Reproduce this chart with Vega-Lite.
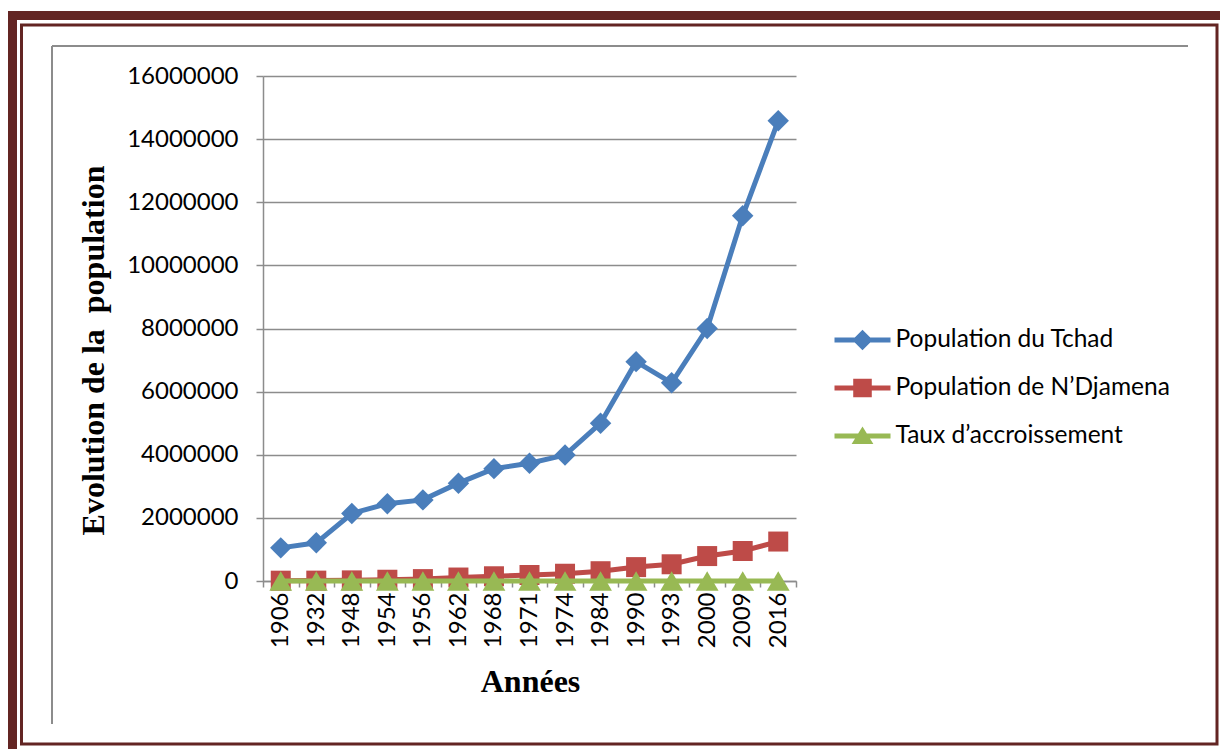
{
  "$schema": "https://vega.github.io/schema/vega-lite/v6.json",
  "autosize": {"type": "none"},
  "width": 533,
  "height": 505,
  "padding": {"left": 263, "top": 76, "right": 424, "bottom": 168},
  "background": "white",
  "config": {
    "view": {"stroke": null},
    "axis": {
      "labelFont": "Lato",
      "labelFontSize": 24,
      "labelColor": "#000000",
      "titleFont": "Liberation Serif",
      "titleFontWeight": "bold",
      "titleColor": "#000000",
      "domainColor": "#8c8c8c",
      "domainWidth": 1.5,
      "tickColor": "#8c8c8c",
      "tickWidth": 1.5,
      "gridColor": "#8c8c8c",
      "gridWidth": 1.5
    },
    "legend": {
      "labelFont": "Lato",
      "labelFontSize": 24.5,
      "labelColor": "#000000",
      "labelLimit": 400,
      "title": null,
      "orient": "none",
      "padding": 0,
      "symbolSize": 1024,
      "symbolStrokeWidth": 0,
      "symbolOpacity": 1,
      "labelOffset": 17
    }
  },
  "datasets": {
    "population": [
      {"annee": "1906", "serie": "Population du Tchad", "valeur": 1050000},
      {"annee": "1932", "serie": "Population du Tchad", "valeur": 1210000},
      {"annee": "1948", "serie": "Population du Tchad", "valeur": 2140000},
      {"annee": "1954", "serie": "Population du Tchad", "valeur": 2450000},
      {"annee": "1956", "serie": "Population du Tchad", "valeur": 2570000},
      {"annee": "1962", "serie": "Population du Tchad", "valeur": 3100000},
      {"annee": "1968", "serie": "Population du Tchad", "valeur": 3560000},
      {"annee": "1971", "serie": "Population du Tchad", "valeur": 3730000},
      {"annee": "1974", "serie": "Population du Tchad", "valeur": 3990000},
      {"annee": "1984", "serie": "Population du Tchad", "valeur": 5000000},
      {"annee": "1990", "serie": "Population du Tchad", "valeur": 6950000},
      {"annee": "1993", "serie": "Population du Tchad", "valeur": 6280000},
      {"annee": "2000", "serie": "Population du Tchad", "valeur": 8000000},
      {"annee": "2009", "serie": "Population du Tchad", "valeur": 11570000},
      {"annee": "2016", "serie": "Population du Tchad", "valeur": 14580000},
      {"annee": "1906", "serie": "Population de N’Djamena", "valeur": 10000},
      {"annee": "1932", "serie": "Population de N’Djamena", "valeur": 12000},
      {"annee": "1948", "serie": "Population de N’Djamena", "valeur": 20000},
      {"annee": "1954", "serie": "Population de N’Djamena", "valeur": 40000},
      {"annee": "1956", "serie": "Population de N’Djamena", "valeur": 60000},
      {"annee": "1962", "serie": "Population de N’Djamena", "valeur": 110000},
      {"annee": "1968", "serie": "Population de N’Djamena", "valeur": 150000},
      {"annee": "1971", "serie": "Population de N’Djamena", "valeur": 190000},
      {"annee": "1974", "serie": "Population de N’Djamena", "valeur": 230000},
      {"annee": "1984", "serie": "Population de N’Djamena", "valeur": 310000},
      {"annee": "1990", "serie": "Population de N’Djamena", "valeur": 440000},
      {"annee": "1993", "serie": "Population de N’Djamena", "valeur": 530000},
      {"annee": "2000", "serie": "Population de N’Djamena", "valeur": 790000},
      {"annee": "2009", "serie": "Population de N’Djamena", "valeur": 950000},
      {"annee": "2016", "serie": "Population de N’Djamena", "valeur": 1250000},
      {"annee": "1906", "serie": "Taux d’accroissement", "valeur": 0},
      {"annee": "1932", "serie": "Taux d’accroissement", "valeur": 0.5},
      {"annee": "1948", "serie": "Taux d’accroissement", "valeur": 3.5},
      {"annee": "1954", "serie": "Taux d’accroissement", "valeur": 12},
      {"annee": "1956", "serie": "Taux d’accroissement", "valeur": 22},
      {"annee": "1962", "serie": "Taux d’accroissement", "valeur": 10},
      {"annee": "1968", "serie": "Taux d’accroissement", "valeur": 5.3},
      {"annee": "1971", "serie": "Taux d’accroissement", "valeur": 8.2},
      {"annee": "1974", "serie": "Taux d’accroissement", "valeur": 6.6},
      {"annee": "1984", "serie": "Taux d’accroissement", "valeur": 3},
      {"annee": "1990", "serie": "Taux d’accroissement", "valeur": 6.1},
      {"annee": "1993", "serie": "Taux d’accroissement", "valeur": 6.4},
      {"annee": "2000", "serie": "Taux d’accroissement", "valeur": 5.8},
      {"annee": "2009", "serie": "Taux d’accroissement", "valeur": 2},
      {"annee": "2016", "serie": "Taux d’accroissement", "valeur": 4.1}
    ]
  },
  "layer": [
    {
      "data": {"values": [{}]},
      "mark": {"type": "rect", "fill": null, "stroke": "#632523", "strokeWidth": 9},
      "encoding": {
        "x": {"value": -250.5}, "x2": {"value": 967},
        "y": {"value": -60.5}, "y2": {"value": 684}
      }
    },
    {
      "data": {"values": [{}]},
      "mark": {"type": "rect", "fill": null, "stroke": "#632523", "strokeWidth": 3},
      "encoding": {
        "x": {"value": -241.5}, "x2": {"value": 954},
        "y": {"value": -51}, "y2": {"value": 668}
      }
    },
    {
      "data": {"values": [{}]},
      "mark": {"type": "rule", "stroke": "#8c8c8c", "strokeWidth": 2},
      "encoding": {
        "x": {"value": -211}, "x2": {"value": 925},
        "y": {"value": -30}
      }
    },
    {
      "data": {"values": [{}]},
      "mark": {"type": "rule", "stroke": "#8c8c8c", "strokeWidth": 2},
      "encoding": {
        "x": {"value": -211},
        "y": {"value": -30}, "y2": {"value": 648}
      }
    },
    {
      "data": {"name": "population"},
      "encoding": {
        "x": {
          "field": "annee", "type": "ordinal", "bandPosition": 0.5,
          "scale": {"type": "band", "paddingInner": 0, "paddingOuter": 0},
          "axis": {
            "title": "Années", "titleFontSize": 32,
            "titleX": 267, "titleY": 110, "titleAlign": "center", "titleBaseline": "alphabetic",
            "labelAngle": 270, "labelPadding": 5, "tickSize": 6, "tickBand": "extent"
          }
        },
        "y": {
          "field": "valeur", "type": "quantitative",
          "scale": {"domain": [0, 16000000], "nice": false},
          "axis": {
            "title": "Evolution de la\u00a0 population", "titleFontSize": 32,
            "titleX": -170, "titleY": 274, "titleAngle": 270,
            "titleAlign": "center", "titleBaseline": "middle",
            "values": [0, 2000000, 4000000, 6000000, 8000000, 10000000, 12000000, 14000000, 16000000],
            "format": "d", "grid": true, "tickSize": 7, "labelPadding": 18
          }
        }
      },
      "resolve": {"scale": {"color": "independent"}, "legend": {"color": "independent"}},
      "layer": [
        {
          "transform": [{"filter": "datum.serie === 'Population du Tchad'"}],
          "encoding": {
            "color": {
              "field": "serie", "type": "nominal",
              "scale": {"domain": ["Population du Tchad"], "range": ["#4A7EBB"]},
              "legend": {
                "legendX": 583.5, "legendY": 248, "symbolFillColor": "#4A7EBB",
                "symbolType": "M-1.75,-0.15H1.75V0.15H-1.75Z M0,-0.64L0.64,0L0,0.64L-0.64,0Z"
              }
            }
          },
          "layer": [
            {"mark": {"type": "line", "strokeWidth": 5}},
            {"mark": {"type": "point", "shape": "diamond", "filled": true, "opacity": 1, "size": 460}}
          ]
        },
        {
          "transform": [{"filter": "datum.serie === 'Population de N’Djamena'"}],
          "encoding": {
            "color": {
              "field": "serie", "type": "nominal",
              "scale": {"domain": ["Population de N’Djamena"], "range": ["#BE4B48"]},
              "legend": {
                "legendX": 583.5, "legendY": 296, "symbolFillColor": "#BE4B48",
                "symbolType": "M-1.75,-0.15H1.75V0.15H-1.75Z M-0.58,-0.58H0.58V0.58H-0.58Z"
              }
            }
          },
          "layer": [
            {"mark": {"type": "line", "strokeWidth": 5}},
            {"mark": {"type": "point", "shape": "square", "filled": true, "opacity": 1, "size": 400}}
          ]
        },
        {
          "transform": [{"filter": "datum.serie === 'Taux d’accroissement'"}],
          "encoding": {
            "color": {
              "field": "serie", "type": "nominal",
              "scale": {"domain": ["Taux d’accroissement"], "range": ["#98B954"]},
              "legend": {
                "legendX": 583.5, "legendY": 344, "symbolFillColor": "#98B954",
                "symbolType": "M-1.75,-0.15H1.75V0.15H-1.75Z M0,-0.6L0.68,0.5H-0.68Z"
              }
            }
          },
          "layer": [
            {"mark": {"type": "line", "strokeWidth": 5}},
            {"mark": {"type": "point", "shape": "triangle-up", "filled": true, "opacity": 1, "size": 520}}
          ]
        }
      ]
    }
  ]
}
